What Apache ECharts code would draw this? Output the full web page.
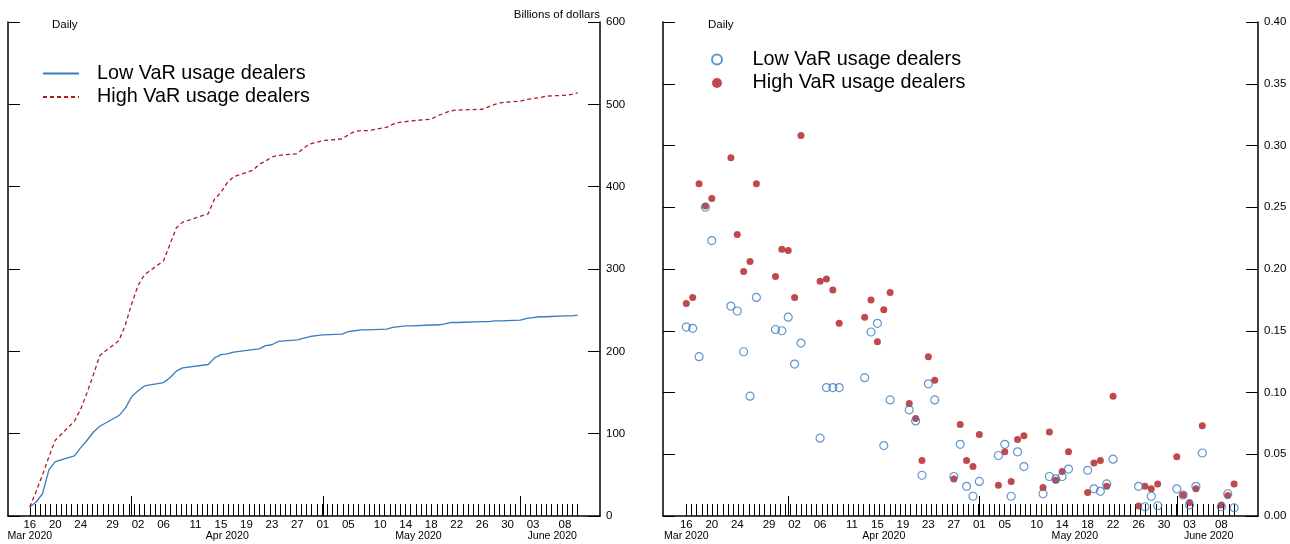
<!DOCTYPE html>
<html>
<head>
<meta charset="utf-8">
<script src="https://cdn.jsdelivr.net/npm/echarts@6/dist/echarts.min.js"></script>
<style>
  html, body { margin: 0; padding: 0; background: #fff; }
  #chart { width: 1290px; height: 544px; }
</style>
</head>
<body>
<div id="chart"></div>
<script>
// trading days shown on both panels
const tradingDates = [
  '2020-03-16', '2020-03-17', '2020-03-18', '2020-03-19', '2020-03-20',
  '2020-03-23', '2020-03-24', '2020-03-25', '2020-03-26', '2020-03-27',
  '2020-03-30', '2020-03-31', '2020-04-01', '2020-04-02', '2020-04-03',
  '2020-04-06', '2020-04-07', '2020-04-08', '2020-04-09',
  '2020-04-13', '2020-04-14', '2020-04-15', '2020-04-16', '2020-04-17',
  '2020-04-20', '2020-04-21', '2020-04-22', '2020-04-23', '2020-04-24',
  '2020-04-27', '2020-04-28', '2020-04-29', '2020-04-30', '2020-05-01',
  '2020-05-04', '2020-05-05', '2020-05-06', '2020-05-07', '2020-05-08',
  '2020-05-11', '2020-05-12', '2020-05-13', '2020-05-14', '2020-05-15',
  '2020-05-18', '2020-05-19', '2020-05-20', '2020-05-21', '2020-05-22',
  '2020-05-26', '2020-05-27', '2020-05-28', '2020-05-29',
  '2020-06-01', '2020-06-02', '2020-06-03', '2020-06-04', '2020-06-05',
  '2020-06-08', '2020-06-09', '2020-06-10'
]

// left panel: cumulative, billions of dollars
const lowCumulative = [
  11, 17, 27, 56, 66,
  73, 83, 92, 102, 109,
  122, 131, 145, 152, 158,
  162, 168, 176, 180,
  184, 192, 196, 197, 199,
  202, 203, 207, 208, 212,
  214, 216, 218, 219, 220,
  221, 224, 225, 226, 226,
  227, 229, 230, 231, 231,
  232, 232, 233, 235, 235,
  236, 236, 237, 237,
  238, 240, 241, 242, 242,
  243, 243, 244
]
const highCumulative = [
  11, 30, 50, 72, 92,
  115, 130, 150, 172, 195,
  213, 232, 258, 280, 293,
  310, 330, 350, 357,
  367, 385, 393, 405, 412,
  420, 427, 431, 436, 438,
  440, 447, 452, 454, 456,
  458, 463, 467, 468, 468,
  472, 476, 478, 479, 480,
  482, 486, 489, 492, 493,
  494, 497, 500, 502,
  504, 506, 507, 508, 510,
  511, 512, 514
]

// right panel: daily values
const lowDaily = [
  0.153, 0.152, 0.129, 0.250, 0.223,
  0.170, 0.166, 0.133, 0.097, 0.177,
  0.151, 0.150, 0.161, 0.123, 0.140,
  0.063, 0.104, 0.104, 0.104,
  0.112, 0.149, 0.156, 0.057, 0.094,
  0.086, 0.077, 0.033, 0.107, 0.094,
  0.032, 0.058, 0.024, 0.016, 0.028,
  0.049, 0.058, 0.016, 0.052, 0.040,
  0.018, 0.032, 0.030, 0.032, 0.038,
  0.037, 0.022, 0.020, 0.026, 0.046,
  0.024, 0.0075, 0.016, 0.0083,
  0.022, 0.017, 0.009, 0.024, 0.051,
  0.0075, 0.018, 0.0067
]
const highDaily = [
  0.172, 0.177, 0.269, 0.251, 0.257,
  0.290, 0.228, 0.198, 0.206, 0.269,
  0.194, 0.216, 0.215, 0.177, 0.308,
  0.190, 0.192, 0.183, 0.156,
  0.161, 0.175, 0.141, 0.167, 0.181,
  0.091, 0.079, 0.045, 0.129, 0.110,
  0.030, 0.074, 0.045, 0.040, 0.066,
  0.025, 0.052, 0.028, 0.062, 0.065,
  0.023, 0.068, 0.029, 0.036, 0.052,
  0.019, 0.043, 0.045, 0.024, 0.097,
  0.008, 0.024, 0.022, 0.026,
  0.048, 0.017, 0.011, 0.022, 0.073,
  0.009, 0.0165, 0.026
]

// x axis labels
const dayLabelDates = [
  '2020-03-16', '2020-03-20', '2020-03-24', '2020-03-29', '2020-04-02',
  '2020-04-06', '2020-04-11', '2020-04-15', '2020-04-19', '2020-04-23',
  '2020-04-27', '2020-05-01', '2020-05-05', '2020-05-10', '2020-05-14',
  '2020-05-18', '2020-05-22', '2020-05-26', '2020-05-30', '2020-06-03',
  '2020-06-08'
]
const monthLabels = ['Mar 2020', 'Apr 2020', 'May 2020', 'June 2020']
const monthLabelDates = ['2020-03-16', '2020-04-16', '2020-05-16', '2020-06-06']
const monthStartDates = ['2020-04-01', '2020-05-01', '2020-06-01']

const seriesNames = ['Low VaR usage dealers', 'High VaR usage dealers']

const BLUE = '#3a7cbf'
const RED = '#b01b22'
const FONT = '"Liberation Sans", Arial, sans-serif'

// days since 16 Mar 2020
const BASE = Date.UTC(2020, 2, 16)
function dayIndex(s) {
  const [y, m, d] = s.split('-').map(Number)
  return (Date.UTC(y, m - 1, d) - BASE) / 86400000
}

const xs = tradingDates.map(dayIndex)
const dayLabelPos = dayLabelDates.map(dayIndex)
const monthLabelPos = monthLabelDates.map(dayIndex)
const monthStartPos = monthStartDates.map(dayIndex)

// dense minor ticks along the date axis
const minorTicks = []
for (let k = 0; k <= 105; k++) minorTicks.push(k * 86 / 105)

function dayText(v) {
  const i = dayLabelPos.indexOf(v)
  return i < 0 ? '' : dayLabelDates[i].slice(8)
}
function monthText(v) {
  const i = monthLabelPos.indexOf(v)
  return i < 0 ? '' : monthLabels[i]
}

function dateAxes(gridIndex, min, max) {
  return [
    {
      type: 'value', gridIndex, min, max, position: 'bottom',
      splitLine: { show: false },
      axisLine: { onZero: false, lineStyle: { color: '#000', width: 1.5 } },
      axisTick: { inside: true, length: 12, customValues: minorTicks, lineStyle: { color: '#000', width: 1 } },
      axisLabel: { customValues: dayLabelPos, formatter: dayText, margin: 3, color: '#000', fontSize: 11.5, fontFamily: FONT }
    },
    {
      type: 'value', gridIndex, min, max, position: 'bottom',
      splitLine: { show: false },
      axisLine: { show: false, onZero: false },
      axisTick: { inside: true, length: 20, customValues: monthStartPos, lineStyle: { color: '#000', width: 1 } },
      axisLabel: { customValues: monthLabelPos, formatter: monthText, margin: 15, color: '#000', fontSize: 10.6, fontFamily: FONT }
    }
  ]
}

function valueAxes(gridIndex, max, interval, fmt) {
  const base = {
    type: 'value', gridIndex, min: 0, max, interval,
    splitLine: { show: false },
    axisLine: { show: true, onZero: false, lineStyle: { color: '#000', width: 1.5 } },
    axisTick: { show: true, inside: true, length: 12, lineStyle: { color: '#000', width: 1 } }
  }
  return [
    Object.assign({}, base, {
      position: 'right',
      axisLabel: { margin: 6, color: '#000', fontSize: 11.5, fontFamily: FONT, formatter: fmt }
    }),
    Object.assign({}, base, {
      position: 'left',
      axisLabel: { show: false }
    })
  ]
}

const chart = echarts.init(document.getElementById('chart'))

const option = {
  animation: false,
  backgroundColor: '#fff',
  textStyle: { fontFamily: FONT },
  title: [
    { text: 'Daily', left: 52, top: 19, padding: 0, textStyle: { fontSize: 11.5, fontWeight: 'normal', color: '#000', fontFamily: FONT } },
    { text: 'Billions of dollars', right: 690, top: 9, padding: 0, textStyle: { fontSize: 11.5, fontWeight: 'normal', color: '#000', fontFamily: FONT } },
    { text: 'Daily', left: 708, top: 19, padding: 0, textStyle: { fontSize: 11.5, fontWeight: 'normal', color: '#000', fontFamily: FONT } }
  ],
  legend: [
    {
      orient: 'vertical', left: 42, top: 63.5, padding: 0, itemGap: 3.5,
      itemWidth: 36, itemHeight: 14,
      data: seriesNames,
      // line only, no marker in the key
      itemStyle: { opacity: 0 },
      textStyle: { fontSize: 19.8, color: '#000', fontFamily: FONT, padding: [0, 0, 0, 13] }
    },
    {
      orient: 'vertical', left: 711, top: 49.5, padding: 0, itemGap: 3.5,
      itemWidth: 10, itemHeight: 10,
      data: seriesNames.map(n => n + ' (daily)'),
      formatter: n => n.replace(' (daily)', ''),
      textStyle: { fontSize: 19.8, color: '#000', fontFamily: FONT, padding: [0, 0, 0, 25.5] }
    }
  ],
  grid: [
    { left: 8, right: 690, top: 22, bottom: 28 },
    { left: 663, right: 32, top: 22, bottom: 28 }
  ],
  xAxis: [
    ...dateAxes(0, -3.42, 89.5),
    ...dateAxes(1, -3.66, 89.75)
  ],
  yAxis: [
    ...valueAxes(0, 600, 100, v => String(v)),
    ...valueAxes(1, 0.4, 0.05, v => v.toFixed(2))
  ],
  series: [
    {
      name: seriesNames[0], type: 'line', xAxisIndex: 0, yAxisIndex: 0,
      data: xs.map((x, i) => [x, lowCumulative[i]]),
      symbol: 'none', color: BLUE,
      lineStyle: { color: BLUE, width: 1.3 }
    },
    {
      name: seriesNames[1], type: 'line', xAxisIndex: 0, yAxisIndex: 0,
      data: xs.map((x, i) => [x, highCumulative[i]]),
      symbol: 'none', color: RED,
      lineStyle: { color: RED, width: 1.3, type: [4, 3] }
    },
    {
      name: seriesNames[0] + ' (daily)', type: 'scatter', xAxisIndex: 2, yAxisIndex: 2,
      data: xs.map((x, i) => [x, lowDaily[i]]),
      symbol: 'circle', symbolSize: 8, z: 3,
      itemStyle: { color: 'rgba(255,255,255,0)', borderColor: BLUE, borderWidth: 1.2 }
    },
    {
      name: seriesNames[1] + ' (daily)', type: 'scatter', xAxisIndex: 2, yAxisIndex: 2,
      data: xs.map((x, i) => [x, highDaily[i]]),
      symbol: 'circle', symbolSize: 7, z: 2,
      itemStyle: { color: RED }
    }
  ]
}

chart.setOption(option)
</script>
</body>
</html>
